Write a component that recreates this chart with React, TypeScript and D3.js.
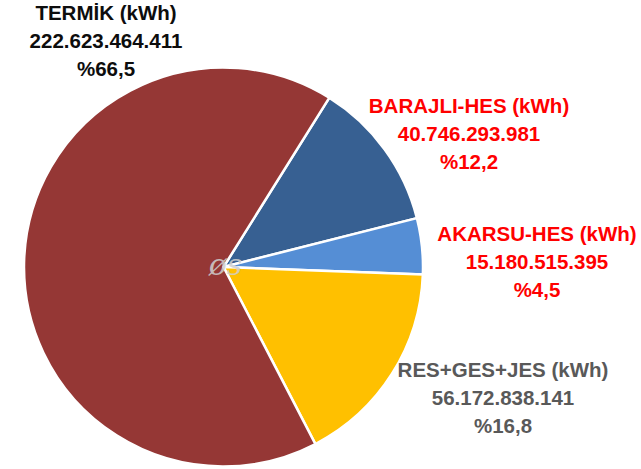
import React from "react";
import * as d3 from "d3";

const categories = ["BARAJLI-HES (kWh)", "AKARSU-HES (kWh)", "RES+GES+JES (kWh)", "TERMİK (kWh)"];
const values = [40746293981, 15180515395, 56172838141, 222623464411];
const valueLabels = ["40.746.293.981", "15.180.515.395", "56.172.838.141", "222.623.464.411"];
const percentLabels = ["%12,2", "%4,5", "%16,8", "%66,5"];
const sliceColors = ["#376092", "#558ED5", "#FFC000", "#953735"];
const textColors = ["#FF0000", "#FF0000", "#595959", "#0d0d0d"];
const labelPos: [number, number][] = [
  [469, 113],
  [537, 241],
  [503, 377],
  [106, 20],
];

const W = 641;
const H = 469;
const cx = 223.5;
const cy = 267;
const R = 199.5;
const startDeg = 32;

export default function App() {
  const pie = d3
    .pie<number>()
    .sort(null)
    .value((d) => d)
    .startAngle((startDeg * Math.PI) / 180)
    .endAngle((startDeg * Math.PI) / 180 + 2 * Math.PI);
  const arcs = pie(values);
  const arc = d3.arc<d3.PieArcDatum<number>>().innerRadius(0).outerRadius(R);
  const lh = 28;
  return (
    <svg
      width={W}
      height={H}
      style={{ position: "absolute", left: 0, top: 0, background: "#fff" }}
    >
      <g transform={`translate(${cx},${cy})`}>
        {arcs.map((a, i) => (
          <path
            key={i}
            d={arc(a) || ""}
            fill={sliceColors[i]}
            stroke="#fff"
            strokeWidth={2.5}
            strokeLinejoin="round"
          />
        ))}
        <text
          x={2}
          y={8}
          textAnchor="middle"
          fontFamily="DejaVu Serif, serif"
          fontStyle="italic"
          fontSize={30}
          fill="#cfcfcf"
          opacity={0.85}
        >
          øs
        </text>
      </g>
      {categories.map((c, i) => (
        <text
          key={c}
          textAnchor="middle"
          fontFamily="Liberation Sans, Arial, sans-serif"
          fontWeight="bold"
          fontSize={20.5}
          fill={textColors[i]}
        >
          <tspan x={labelPos[i][0]} y={labelPos[i][1]}>
            {c}
          </tspan>
          <tspan x={labelPos[i][0]} y={labelPos[i][1] + lh}>
            {valueLabels[i]}
          </tspan>
          <tspan x={labelPos[i][0]} y={labelPos[i][1] + 2 * lh}>
            {percentLabels[i]}
          </tspan>
        </text>
      ))}
    </svg>
  );
}
